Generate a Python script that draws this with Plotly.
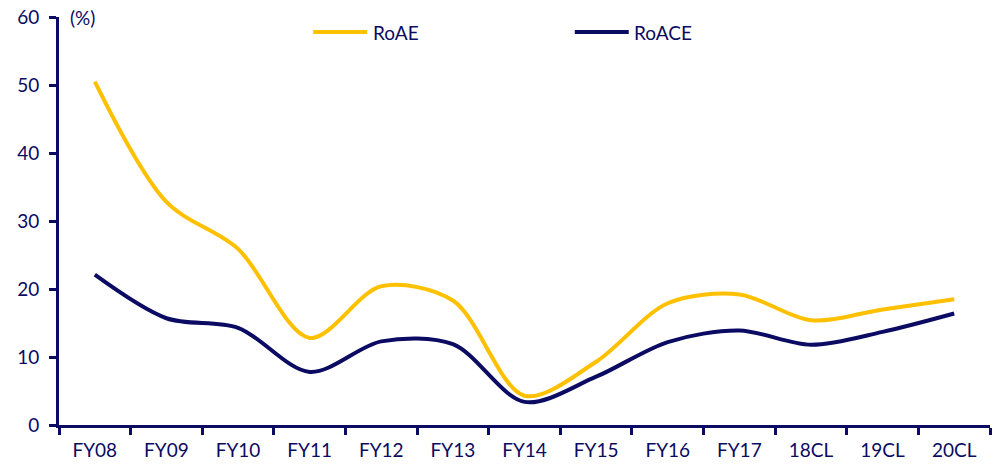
import plotly.graph_objects as go

# Return ratios by fiscal year (%)
years = ["FY08", "FY09", "FY10", "FY11", "FY12", "FY13", "FY14",
         "FY15", "FY16", "FY17", "18CL", "19CL", "20CL"]
roae = [50.5, 32.8, 25.9, 12.8, 20.4, 18.3, 4.3, 9.3, 17.9, 19.2, 15.4, 17.0, 18.5]
roace = [22.1, 15.7, 14.3, 7.8, 12.3, 11.9, 3.4, 7.1, 12.2, 13.9, 11.8, 13.7, 16.4]

series_names = ["RoAE", "RoACE"]
series_colors = ["#FFC000", "#0B0B63"]
axis_color = "#0B0B63"
font_family = "Lato, 'Open Sans', sans-serif"
font_size = 19

fig = go.Figure()
for name, vals, col in zip(series_names, [roae, roace], series_colors):
    fig.add_trace(go.Scatter(
        x=years, y=vals, name=name, mode="lines",
        line=dict(color=col, width=4, shape="spline", smoothing=0.9),
        showlegend=False,
    ))

# Legend drawn as line samples with labels along the top
legend_x = [0.273, 0.554]
legend_y = 0.963
for name, col, x0 in zip(series_names, series_colors, legend_x):
    fig.add_shape(type="line", xref="paper", yref="paper",
                  x0=x0, x1=x0 + 0.058, y0=legend_y, y1=legend_y,
                  line=dict(color=col, width=4))
    fig.add_annotation(text=name, xref="paper", yref="paper",
                       x=x0 + 0.062, y=legend_y, xanchor="left", yanchor="middle",
                       showarrow=False,
                       font=dict(family=font_family, size=font_size, color=axis_color))

fig.add_annotation(text="(%)", xref="paper", yref="paper",
                   x=0.010, y=1.0, xanchor="left", yanchor="middle",
                   showarrow=False,
                   font=dict(family=font_family, size=font_size, color=axis_color))

fig.update_layout(
    width=999, height=466,
    margin=dict(l=59, r=9, t=17, b=41, autoexpand=False),
    paper_bgcolor="white", plot_bgcolor="white",
    font=dict(family=font_family, size=font_size, color=axis_color),
    xaxis=dict(
        type="category", range=[-0.5, 12.5], automargin=False,
        tickson="boundaries", ticks="outside", ticklen=7, tickwidth=3,
        tickcolor=axis_color, showline=True, linecolor=axis_color, linewidth=3,
        showgrid=False, zeroline=False, fixedrange=True,
        ticklabelstandoff=6,
        tickfont=dict(size=font_size, color=axis_color),
    ),
    yaxis=dict(
        range=[0, 60], dtick=10, ticks="outside", ticklen=7, tickwidth=3,
        automargin=False,
        tickcolor=axis_color, showline=True, linecolor=axis_color, linewidth=3,
        showgrid=False, zeroline=False, fixedrange=True,
        ticklabelstandoff=6,
        tickfont=dict(size=font_size, color=axis_color),
    ),
)

fig.write_html("out.html")
